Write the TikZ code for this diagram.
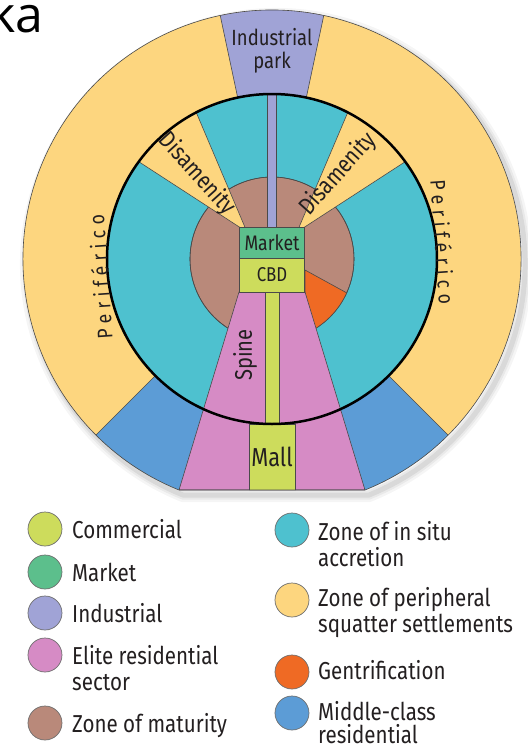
\documentclass[tikz,border=0pt]{standalone}
\usepackage{fontspec}
\setmainfont[FakeStretch=0.84]{Fira Sans}
\newfontfamily\titlefont{Open Sans}
\newfontfamily\ringfont[FakeStretch=0.84,LetterSpace=25]{Fira Sans}
\usepackage{tikz}
\usetikzlibrary{positioning}
\usepackage{xcolor}
\definecolor{comm}{HTML}{CDDC5C}
\definecolor{market}{HTML}{5CBF8C}
\definecolor{indus}{HTML}{A0A3D6}
\definecolor{elite}{HTML}{D68BC5}
\definecolor{mature}{HTML}{B9897A}
\definecolor{insitu}{HTML}{4EC1CF}
\definecolor{periph}{HTML}{FDD67F}
\definecolor{gentri}{HTML}{EF6A24}
\definecolor{midcls}{HTML}{5C9CD6}
\definecolor{edge}{HTML}{4A4A4A}
\definecolor{ink}{HTML}{231F20}
\tikzset{zone/.style={draw=edge,line width=0.6pt},
  lbl/.style={text=ink,inner sep=0pt},
  key/.style={circle,draw=edge!80,line width=0.7pt,minimum size=34pt,inner sep=0pt},
  keytxt/.style={text=ink,anchor=base west,inner sep=0pt,align=left,font=\fontsize{24.5}{26}\selectfont}}

\begin{document}
\begin{tikzpicture}[x=1pt,y=1pt]
        \useasboundingbox (-272,-489) rectangle (256,259);
        \node[anchor=base west, inner sep=0pt, font=\titlefont\fontsize{50}{50}\selectfont] (ka) at (-283,227) {ka};
        % soft shadow
        \foreach \w/\o in {14/.04,9/.05,5/.07}
          \draw[black,opacity=\o,line width=\w pt,shift={(4,-5)}] (93,-231) arc[start angle=-68.07,end angle=248.07,radius=249] -- cycle;
        \begin{scope}
          \clip (93,-231) arc[start angle=-68.07,end angle=248.07,radius=249] -- cycle;
          \fill[periph] (0,0) circle(249);
          \filldraw[zone,fill=midcls] (0,0) -- (225:260) arc[start angle=225,end angle=315,radius=260] -- cycle;
          \filldraw[zone,fill=indus] (0,0) -- (78:260) arc[start angle=78,end angle=102,radius=260] -- cycle;
          \filldraw[zone,fill=insitu] (0,0) circle(165);
          \filldraw[zone,fill=mature] (0,0) circle(82);
          \begin{scope}
            \clip (0,0) circle(82);
            \filldraw[zone,fill=gentri] (33,-11) -- (120,-58.7) -- (120,-120) -- (33,-120) -- cycle;
          \end{scope}
          \draw[zone] (0,0) circle(82);
          \begin{scope}
            \clip (0,0) circle(165);
            \filldraw[zone,fill=periph] (-25,27) -- +(113:220) -- +(147:220) -- cycle;
            \filldraw[zone,fill=periph] (25,27) -- +(67:220) -- +(33:220) -- cycle;
          \end{scope}
          \filldraw[zone,fill=elite] (-33,-33) -- (33,-33) -- (93,-231) -- (-93,-231) -- cycle;
          \filldraw[zone,fill=comm] (-7,-33) rectangle (7,-165);
          \filldraw[zone,fill=comm] (-23,-165) rectangle (23,-231);
          \filldraw[zone,fill=indus] (-4.5,32) rectangle (4.5,165);
          \filldraw[zone,fill=market] (-32.5,1) rectangle (32.5,32);
          \filldraw[zone,fill=comm] (-32.5,-33) rectangle (32.5,1);
          \draw[line width=2.5pt] (0,0) circle(165);
        \end{scope}
        \draw[zone] (93,-231) arc[start angle=-68.07,end angle=248.07,radius=249] -- cycle;
        % zone labels
        \node[lbl,align=center,font=\fontsize{22}{23}\selectfont] (park) at (0,208) {Industrial\\park};
        \node[lbl,font=\fontsize{24}{24}\selectfont,rotate=-48] (disL) at (-75,85) {Disamenity};
        \node[lbl,font=\fontsize{24}{24}\selectfont,rotate=48] (disR) at (66,85) {Disamenity};
        \node[lbl,font=\fontsize{21}{21}\selectfont] (mkt) at (0,16.5) {Market};
        \node[lbl,font=\fontsize{20}{20}\selectfont] (cbd) at (0,-16) {CBD};
        \node[lbl,font=\fontsize{24}{24}\selectfont,rotate=90] (spine) at (-27,-96) {Spine};
        \node[lbl,font=\fontsize{26}{26}\selectfont] (mall) at (0,-198) {Mall};
        \node[lbl,font=\ringfont\fontsize{21}{21}\selectfont,rotate=94] (perL) at (-172,-18) {Periférico};
        \node[lbl,font=\ringfont\fontsize{21}{21}\selectfont,rotate=-86] (perR) at (171,17) {Periférico};
        % key
        \node[key,fill=comm] (kcomm) at (-227,-270) {};
        \node[key,fill=market] (kmkt) at (-227,-313) {};
        \node[key,fill=indus] (kind) at (-227,-354) {};
        \node[key,fill=elite] (kelite) at (-227,-396) {};
        \node[key,fill=mature] (kmat) at (-227,-464) {};
        \node[key,fill=insitu] (kins) at (20,-271) {};
        \node[key,fill=periph] (kper) at (20,-341) {};
        \node[key,fill=gentri] (kgen) at (20,-413) {};
        \node[key,fill=midcls] (kmid) at (20,-454) {};
        \node[keytxt] (tcomm) at (-200,-279) {Commercial};
        \node[keytxt] (tmkt) at (-200,-322) {Market};
        \node[keytxt] (tind) at (-200,-363) {Industrial};
        \node[keytxt] (telite) at (-200,-431) {Elite residential\\sector};
        \node[keytxt] (tmat) at (-200,-473) {Zone of maturity};
        \node[keytxt] (tins) at (46,-307) {Zone of in situ\\accretion};
        \node[keytxt] (tper) at (46,-373) {Zone of peripheral\\squatter settlements};
        \node[keytxt] (tgen) at (46,-420) {Gentrification};
        \node[keytxt,font=\fontsize{24.5}{23}\selectfont] (tmid) at (46,-484) {Middle-class\\residential};
      \end{tikzpicture}
\end{document}
